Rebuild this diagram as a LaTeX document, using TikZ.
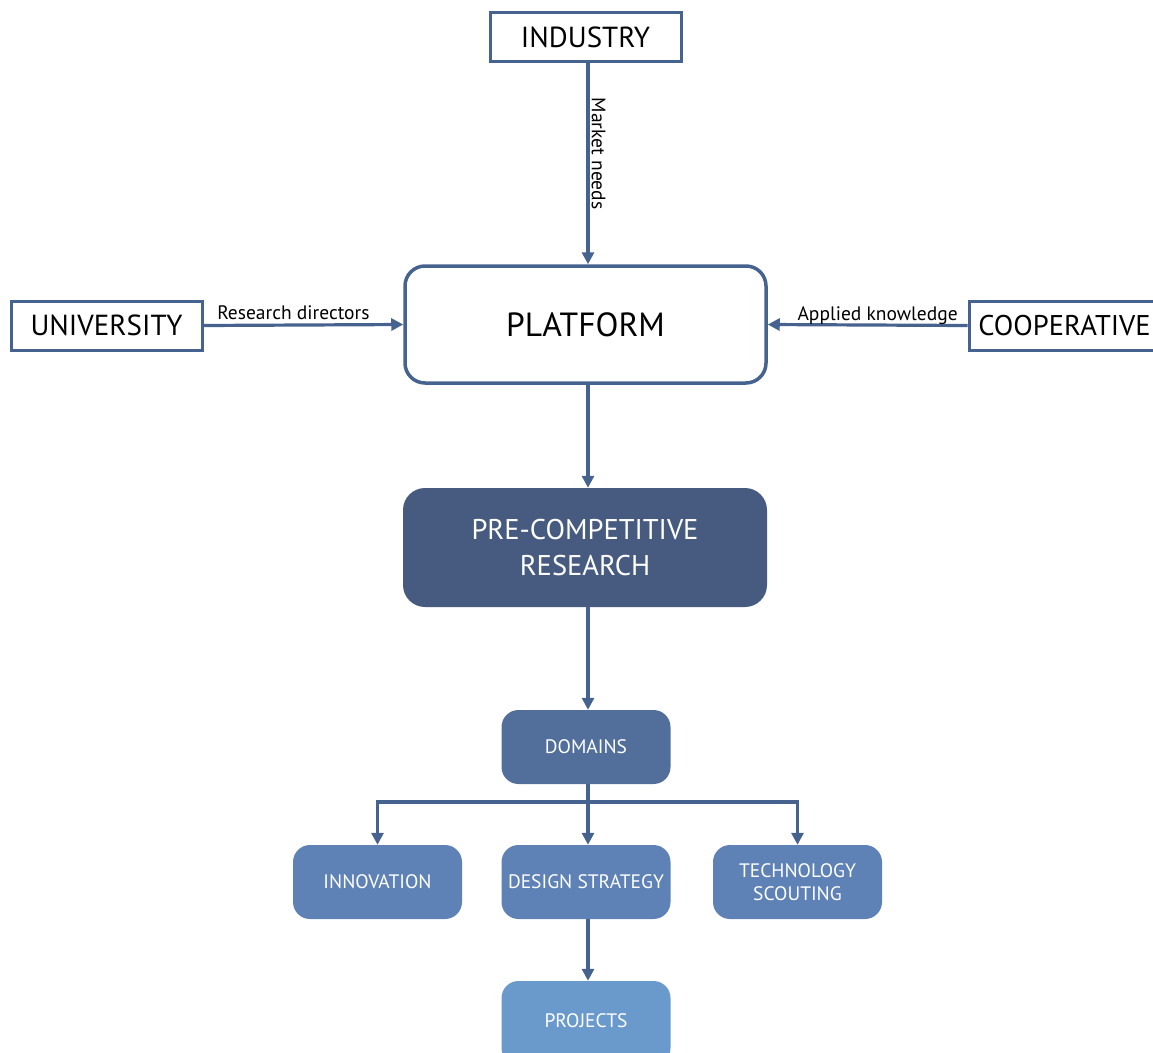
\documentclass[tikz,border=0pt]{standalone}
\usepackage{fontspec}
\setmainfont{PT Sans}
\usetikzlibrary{arrows.meta}
\definecolor{lineblue}{HTML}{46638F}
\definecolor{pcrfill}{HTML}{475B81}
\definecolor{domfill}{HTML}{526F9B}
\definecolor{midfill}{HTML}{5E82B5}
\definecolor{projfill}{HTML}{6A9ACC}
\tikzset{
  outerbox/.style={draw=lineblue, line width=3pt, fill=white, inner sep=0pt, minimum width=191pt, minimum height=49pt, font=\fontsize{29}{32}\selectfont},
  platbox/.style={draw=lineblue, line width=3.5pt, fill=white, rounded corners=20pt, inner sep=0pt, minimum width=361pt, minimum height=117pt, font=\fontsize{33.5}{38}\selectfont},
  pcrbox/.style={fill=pcrfill, rounded corners=22pt, inner sep=0pt, minimum width=364pt, minimum height=119pt, text=white, align=center, font=\fontsize{28.5}{36}\selectfont},
  smallbox/.style={rounded corners=17pt, inner sep=0pt, minimum width=169pt, minimum height=74pt, text=white, align=center, font=\fontsize{19.5}{24}\selectfont},
  conn/.style={draw=lineblue, line width=3.2pt, -{Triangle[length=12pt,width=12pt]}},
  lbl/.style={font=\fontsize{19.5}{22}\selectfont, inner sep=0pt}
}
\begin{document}
\begin{tikzpicture}[x=1pt,y=-1pt]
\useasboundingbox (0,0) rectangle (1153,1052);
\node[outerbox] (ind) at (585.5,37) {INDUSTRY};
\node[outerbox] (uni) at (106.5,325.5) {UNIVERSITY};
\node[outerbox, font=\fontsize{28.5}{32}\selectfont] (coop) at (1064.5,325.5) {COOPERATIVE};
\node[platbox] (plat) at (585.5,324.5) {PLATFORM};
\node[pcrbox] (pcr) at (585,547.5) {PRE-COMPETITIVE\\RESEARCH};
\node[smallbox, fill=domfill] (dom) at (586,747) {DOMAINS};
\node[smallbox, fill=midfill] (inn) at (377.5,882) {INNOVATION};
\node[smallbox, fill=midfill] (des) at (586,882) {DESIGN STRATEGY};
\node[smallbox, fill=midfill] (tec) at (797.5,882) {TECHNOLOGY\\[-1pt]SCOUTING};
\node[smallbox, fill=projfill, minimum height=84pt, text depth=0pt] (proj) at (586,1023) {\raisebox{4pt}{PROJECTS}};
% connectors
\draw[conn] (ind.south -| 588,0) -- (plat.north -| 588,0) node[lbl, pos=0.45, rotate=-90, above, yshift=2pt] (mn) {Market needs};
\draw[conn] (uni.east) -- (plat.west) node[lbl, pos=0.45, above=4pt] (rd) {Research directors};
\draw[conn] (coop.west) -- (plat.east) node[lbl, pos=0.45, above=3pt, text depth=0pt] (ak) {Applied knowledge};
\draw[conn] (plat.south -| 588,0) -- (pcr.north -| 588,0);
\draw[conn] (pcr.south -| 588,0) -- (dom.north -| 588,0);
\coordinate (split) at (588,802);
\draw[draw=lineblue, line width=3.2pt] (dom.south -| 588,0) -- (split);
\draw[conn] (split) -| (inn.north);
\draw[conn] (split) -| (tec.north);
\draw[conn] (split) -- (des.north -| 588,0);
\draw[conn] (des.south -| 588,0) -- (proj.north -| 588,0);
\end{tikzpicture}
\end{document}
